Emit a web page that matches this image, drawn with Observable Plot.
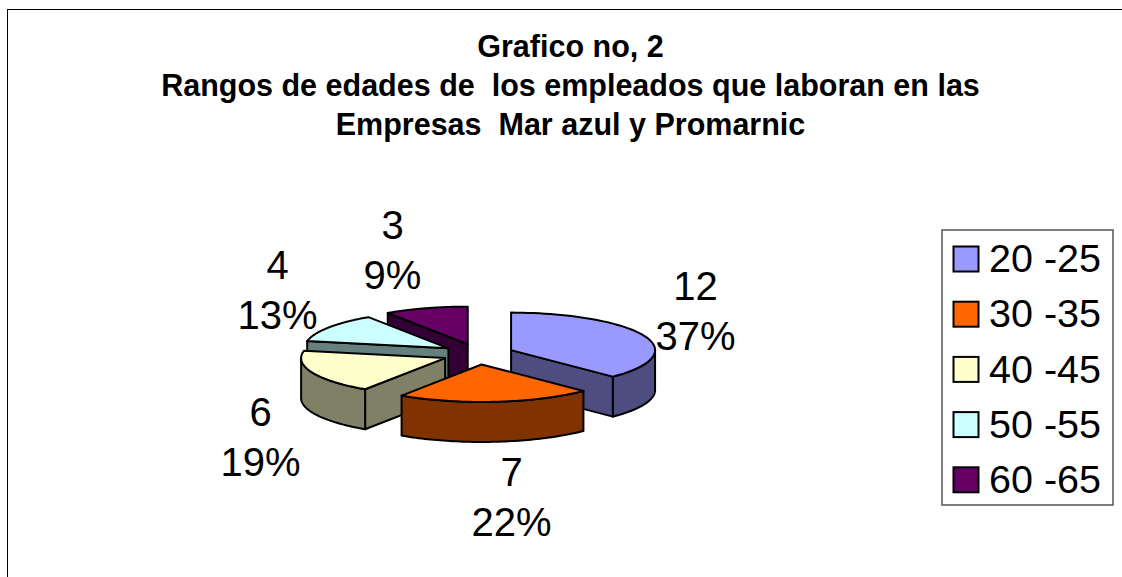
<!DOCTYPE html>
<html>
<head>
<meta charset="utf-8">
<script src="https://cdn.jsdelivr.net/npm/d3@7"></script>
<script src="https://cdn.jsdelivr.net/npm/@observablehq/plot@0.6"></script>
<style>
html,body{margin:0;padding:0;background:#fff}
svg text{white-space:pre}
</style>
</head>
<body>
<div id="chart"></div>
<script>
const titleLines = ["Grafico no, 2", "Rangos de edades de  los empleados que laboran en las", "Empresas  Mar azul y Promarnic"];
const categories = ["20 -25", "30 -35", "40 -45", "50 -55", "60 -65"];
const values = [12, 7, 6, 4, 3];
const topColors = ["#9999FF", "#FF6600", "#FFFFCC", "#CCFFFF", "#660066"];
const wallColors = ["#4D4D80", "#803300", "#808066", "#668080", "#330033"];
const percents = ["37%", "22%", "19%", "13%", "9%"];
const paintOrder = [4, 3, 2, 0, 1];

// Layout of the tilted, exploded pie
const pie = {cx: 477.6, cy: 353.6, rx: 144, ry: 37.5, depth: 40, ex: 35.7, ey: 10.4};
const labelAt = [[695, 337], [511, 523], [260, 463], [277, 316], [392, 275.5]];
const lineGap = 50;
const legend = {x1: 942, x2: 1113, y1: 230, y2: 505, sx1: 953.5, sx2: 978.5, first: 259, step: 55.2, tx: 988.5};

const total = d3.sum(values);
const starts = d3.cumsum([0, ...values]).map(v => v / total * 360);
const rad = a => a * Math.PI / 180;
const polys = [];
let pid = 0;
const addPoly = (pts, fill) => {
  const id = pid++;
  [...pts, pts[0]].forEach(([x, y]) => polys.push({id, x, y, fill}));
};
for (const i of paintOrder) {
  const a0 = starts[i], a1 = starts[i + 1], mid = (a0 + a1) / 2;
  const ax = pie.cx + pie.ex * Math.sin(rad(mid));
  const ay = pie.cy - pie.ey * Math.cos(rad(mid));
  const rim = a => [ax + pie.rx * Math.sin(rad(a)), ay - pie.ry * Math.cos(rad(a))];
  const arc = (f, t) => d3.range(0, 61).map(k => rim(f + (t - f) * k / 60));
  const wall = pts => [...pts, ...pts.slice().reverse().map(([x, y]) => [x, y + pie.depth])];
  if (Math.sin(rad(a0)) < -1e-6) addPoly(wall([[ax, ay], rim(a0)]), wallColors[i]);
  if (Math.sin(rad(a1)) > 1e-6) addPoly(wall([[ax, ay], rim(a1)]), wallColors[i]);
  const f = Math.max(a0, 90), t = Math.min(a1, 270);
  if (t > f) addPoly(wall(arc(f, t)), wallColors[i]);
  addPoly([[ax, ay], ...arc(a0, a1)], topColors[i]);
}

const font = "Liberation Sans, Arial, sans-serif";
const labelRows = values.flatMap((v, i) => [
  {t: String(v), x: labelAt[i][0], y: labelAt[i][1] - lineGap},
  {t: percents[i], x: labelAt[i][0], y: labelAt[i][1]}
]);
const legendRows = categories.map((c, i) => ({c, fill: topColors[i], y: legend.first + i * legend.step}));

const chart = Plot.plot({
  width: 1122, height: 577, margin: 0,
  x: {domain: [0, 1122], range: [0, 1122], axis: null},
  y: {domain: [0, 577], range: [0, 577], axis: null},
  color: {type: "identity"},
  style: {background: "#fff", fontFamily: font},
  marks: [
    Plot.ruleY([9], {x1: 7, x2: 1122, stroke: "#000", strokeWidth: 1}),
    Plot.ruleX([7], {y1: 9, y2: 577, stroke: "#000", strokeWidth: 1}),
    Plot.text(titleLines, {
      x: 570, y: (d, i) => 47 + i * 39, text: d => d, fontSize: 30.5, fontWeight: "bold",
      fill: "#000", textAnchor: "middle", lineAnchor: "middle"
    }),
    Plot.line(polys, {x: "x", y: "y", z: "id", fill: "fill", stroke: "#000", strokeWidth: 2, strokeLinejoin: "round"}),
    Plot.text(labelRows, {x: "x", y: "y", text: "t", fontSize: 40, fill: "#000", textAnchor: "middle", lineAnchor: "middle"}),
    Plot.rect([legend], {x1: "x1", x2: "x2", y1: "y1", y2: "y2", fill: "#fff", stroke: "#555", strokeWidth: 1.5}),
    Plot.rect(legendRows, {x1: legend.sx1, x2: legend.sx2, y1: d => d.y - 12.5, y2: d => d.y + 12.5, fill: "fill", stroke: "#000", strokeWidth: 2}),
    Plot.text(legendRows, {x: legend.tx, y: "y", text: "c", fontSize: 39.5, fill: "#000", textAnchor: "start", lineAnchor: "middle"})
  ]
});
document.getElementById("chart").appendChild(chart);
</script>
</body>
</html>
